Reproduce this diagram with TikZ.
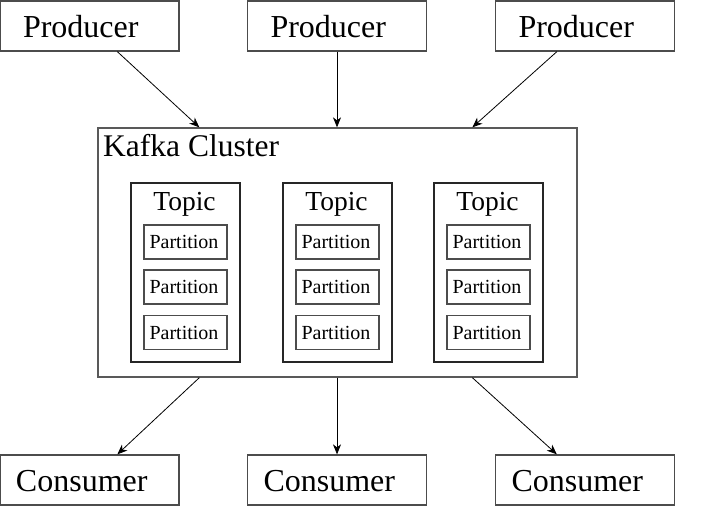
\documentclass[tikz,border=0pt]{standalone}
\usepackage{fontspec}
\setmainfont{Liberation Serif}
\usetikzlibrary{arrows.meta}
\begin{document}
\begin{tikzpicture}[x=1pt,y=-1pt,
  outerbox/.style={draw=black!70, line width=1.3pt, inner ysep=0pt, minimum height=50pt, text height=27pt, text depth=4pt, font=\fontsize{32}{32}\selectfont, align=left},
  prodbox/.style={outerbox, minimum width=179pt, text width=133pt, inner xsep=23pt},
  consbox/.style={outerbox, minimum width=179pt, text width=147pt, inner xsep=16pt},
  clusterbox/.style={draw=black!65, line width=1.3pt, minimum width=479pt, minimum height=249pt, inner sep=0pt},
  topicbox/.style={draw=black!85, line width=2pt, minimum width=109pt, minimum height=179pt, inner sep=0pt},
  topictitle/.style={inner sep=0pt, anchor=base, font=\fontsize{27.5}{27.5}\selectfont},
  partbox/.style={draw=black!70, line width=1.2pt, minimum width=83pt, minimum height=34pt, inner sep=0pt, font=\fontsize{20}{20}\selectfont},
  arr/.style={-{Stealth[length=10pt,width=8pt,inset=3pt]}, line width=0.8pt, black}
]
\useasboundingbox (0,0) rectangle (727,523);

% producers
\node[prodbox] (p1) at (89.5,26) {Producer};
\node[prodbox] (p2) at (337,26) {Producer};
\node[prodbox] (p3) at (585,26) {Producer};

% cluster
\node[clusterbox] (cluster) at (337.5,252.5) {};
\node[inner sep=0pt, anchor=base west, font=\fontsize{31.5}{31.5}\selectfont] (clabel) at (103,156) {Kafka Cluster};

% topics
\foreach \n/\cx in {1/185.5, 2/337.5, 3/488.5} {
  \node[topicbox] (t\n) at (\cx,272.5) {};
  \node[topictitle] (tt\n) at (\cx-1,210.5) {Topic};
  \node[partbox] (pa\n a) at (\cx,242) {\hspace*{-3pt}Partition};
  \node[partbox] (pa\n b) at (\cx,287) {\hspace*{-3pt}Partition};
  \node[partbox] (pa\n c) at (\cx,332.5) {\hspace*{-3pt}Partition};
}

% consumers
\node[consbox] (c1) at (89.5,480) {Consumer};
\node[consbox] (c2) at (337,480) {Consumer};
\node[consbox] (c3) at (585,480) {Consumer};

% arrows
\draw[arr] ([xshift=118pt]p1.south west) -- ([xshift=102pt]cluster.north west);
\draw[arr] (p2.south) -- (p2.south |- cluster.north);
\draw[arr] ([xshift=62pt]p3.south west) -- ([xshift=375pt]cluster.north west);
\draw[arr] ([xshift=102pt]cluster.south west) -- ([xshift=118pt]c1.north west);
\draw[arr] (c2.north |- cluster.south) -- (c2.north);
\draw[arr] ([xshift=375pt]cluster.south west) -- ([xshift=62pt]c3.north west);
\end{tikzpicture}
\end{document}
